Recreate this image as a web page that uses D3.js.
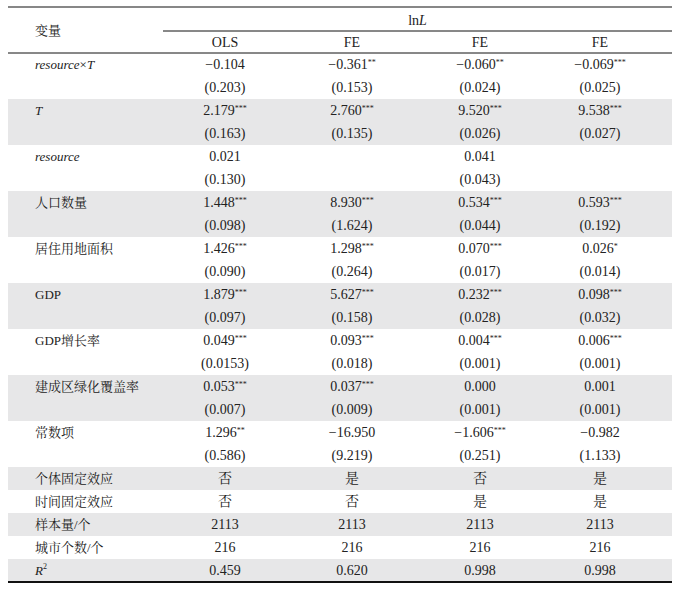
<!DOCTYPE html>
<html>
<head>
<meta charset="utf-8">
<script src="https://cdn.jsdelivr.net/npm/d3@7"></script>
<style>
html,body{margin:0;padding:0;background:#fff;}
svg{display:block;}
</style>
</head>
<body>
<svg id="chart" width="675" height="595"></svg>
<script>
// ---------- data ----------
const models = ["OLS", "FE", "FE", "FE"];
const variables = ["resource×T", "T", "resource", "人口数量", "居住用地面积", "GDP", "GDP增长率", "建成区绿化覆盖率", "常数项"];
const coefOLS = [-0.104, 2.179, 0.021, 1.448, 1.426, 1.879, 0.049, 0.053, 1.296];
const seOLS   = [0.203, 0.163, 0.130, 0.098, 0.090, 0.097, 0.0153, 0.007, 0.586];
const starsOLS = [0, 3, 0, 3, 3, 3, 3, 3, 2];
const coefFE1 = [-0.361, 2.760, null, 8.930, 1.298, 5.627, 0.093, 0.037, -16.950];
const seFE1   = [0.153, 0.135, null, 1.624, 0.264, 0.158, 0.018, 0.009, 9.219];
const starsFE1 = [2, 3, 0, 3, 3, 3, 3, 3, 0];
const coefFE2 = [-0.060, 9.520, 0.041, 0.534, 0.070, 0.232, 0.004, 0.000, -1.606];
const seFE2   = [0.024, 0.026, 0.043, 0.044, 0.017, 0.028, 0.001, 0.001, 0.251];
const starsFE2 = [2, 3, 0, 3, 3, 3, 3, 0, 3];
const coefFE3 = [-0.069, 9.538, null, 0.593, 0.026, 0.098, 0.006, 0.001, -0.982];
const seFE3   = [0.025, 0.027, null, 0.192, 0.014, 0.032, 0.001, 0.001, 1.133];
const starsFE3 = [3, 3, 0, 3, 1, 3, 3, 0, 0];
const individualFE = ["否", "是", "否", "是"];
const timeFE = ["否", "否", "是", "是"];
const sampleSize = [2113, 2113, 2113, 2113];
const cityCount = [216, 216, 216, 216];
const rSquared = [0.459, 0.620, 0.998, 0.998];

const coefs = [coefOLS, coefFE1, coefFE2, coefFE3];
const ses = [seOLS, seFE1, seFE2, seFE3];
const stars = [starsOLS, starsFE1, starsFE2, starsFE3];

(function () {
// ---------- helpers ----------
function fmt(v) {
  if (v === null || v === undefined) return "";
  const s = String(Math.abs(v));
  const dec = s.includes(".") ? s.split(".")[1].length : 0;
  const body = dec > 3 ? s : Math.abs(v).toFixed(3);
  return (v < 0 ? "\u2212" : "") + body;
}

const rows = [];
variables.forEach((name, i) => {
  rows.push({
    label: name, units: 2,
    line1: models.map((m, j) => coefs[j][i] === null ? null : { text: fmt(coefs[j][i]), sup: "*".repeat(stars[j][i]) }),
    line2: models.map((m, j) => ses[j][i] === null ? null : { text: "(" + fmt(ses[j][i]) + ")", sup: "" })
  });
});
rows.push({ label: "个体固定效应", units: 1, line1: individualFE.map(t => ({ text: t, sup: "" })) });
rows.push({ label: "时间固定效应", units: 1, line1: timeFE.map(t => ({ text: t, sup: "" })) });
rows.push({ label: "样本量/个", units: 1, line1: sampleSize.map(t => ({ text: String(t), sup: "" })) });
rows.push({ label: "城市个数/个", units: 1, line1: cityCount.map(t => ({ text: String(t), sup: "" })) });
rows.push({ label: "R2", units: 1, line1: rSquared.map(t => ({ text: t.toFixed(3), sup: "" })) });

let acc = 0;
rows.forEach(r => { r.start = acc; acc += r.units; });
const totalUnits = acc;

// ---------- scales ----------
const leftX = 8, rightX = 672, topY = 7, headerBottom = 53, bottomY = 582, groupLineY = 31;
const labelX = 35, firstColLeft = 163;
const y = d3.scaleLinear().domain([0, totalUnits]).range([headerBottom, bottomY]);
const x = d3.scaleOrdinal().domain(d3.range(models.length)).range([225, 352, 480, 600]);

const serif = "'Liberation Serif','Times New Roman','Noto Serif CJK SC','Noto Sans CJK SC',serif";
const svg = d3.select("#chart");

// shading
svg.append("g").selectAll("rect")
  .data(rows.filter((r, i) => i % 2 === 1))
  .join("rect")
  .attr("x", leftX).attr("width", rightX - leftX)
  .attr("y", r => y(r.start)).attr("height", r => y(r.start + r.units) - y(r.start))
  .attr("fill", "#e7e7e8");

// rules
svg.append("line").attr("x1", leftX).attr("x2", rightX).attr("y1", topY).attr("y2", topY).attr("stroke", "#111").attr("stroke-width", 1.2);
svg.append("line").attr("x1", firstColLeft).attr("x2", rightX).attr("y1", groupLineY).attr("y2", groupLineY).attr("stroke", "#111").attr("stroke-width", 1);
svg.append("line").attr("x1", leftX).attr("x2", rightX).attr("y1", headerBottom).attr("y2", headerBottom).attr("stroke", "#111").attr("stroke-width", 1);
svg.append("line").attr("x1", leftX).attr("x2", rightX).attr("y1", bottomY).attr("y2", bottomY).attr("stroke", "#111").attr("stroke-width", 2);

const txtColor = "#222";
// header
svg.append("text").attr("x", labelX).attr("y", (topY + headerBottom) / 2).attr("dy", "0.35em")
  .attr("font-family", serif).attr("font-size", 13).attr("fill", txtColor).text("变量");
const lnl = svg.append("text").attr("x", (firstColLeft + rightX) / 2).attr("y", (topY + groupLineY) / 2 + 1).attr("dy", "0.35em")
  .attr("text-anchor", "middle").attr("font-family", serif).attr("font-size", 14).attr("fill", txtColor);
lnl.append("tspan").text("ln");
lnl.append("tspan").attr("font-style", "italic").text("L");
svg.append("g").selectAll("text").data(models).join("text")
  .attr("x", (d, i) => x(i)).attr("y", (groupLineY + headerBottom) / 2).attr("dy", "0.35em")
  .attr("text-anchor", "middle").attr("font-family", serif).attr("font-size", 14).attr("fill", txtColor)
  .text(d => d);

// rows
rows.forEach(r => {
  const ty = y(r.start + 0.5);
  const t = svg.append("text").attr("x", labelX).attr("y", ty).attr("dy", "0.35em")
    .attr("font-family", serif).attr("font-size", 13).attr("fill", txtColor);
  if (r.label === "resource×T") {
    t.append("tspan").attr("font-style", "italic").text("resource");
    t.append("tspan").text("×");
    t.append("tspan").attr("font-style", "italic").text("T");
  } else if (r.label === "T" || r.label === "resource") {
    t.attr("font-style", "italic").text(r.label);
  } else if (r.label === "R2") {
    t.append("tspan").attr("font-style", "italic").text("R");
    t.append("tspan").attr("font-size", 8).attr("dy", "-0.7em").text("2");
  } else {
    t.text(r.label);
  }

  const lines = [r.line1, r.line2].filter(Boolean);
  lines.forEach((cells, li) => {
    cells.forEach((c, j) => {
      if (!c) return;
      const vt = svg.append("text").attr("x", x(j)).attr("y", y(r.start + li + 0.5)).attr("dy", "0.35em")
        .attr("text-anchor", "middle").attr("font-family", serif).attr("font-size", 14).attr("fill", txtColor);
      vt.append("tspan").text(c.text);
      if (c.sup) vt.append("tspan").attr("font-size", 8).attr("dy", "-0.6em").text(c.sup);
    });
  });
});
})();
</script>
</body>
</html>
